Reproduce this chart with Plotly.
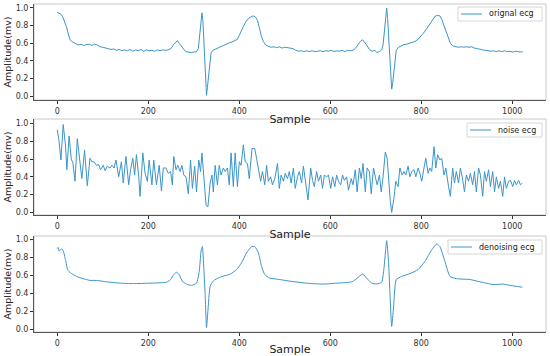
import plotly.graph_objects as go

# ---------------- data ----------------
orig_x = [0, 4, 8, 12, 16, 20, 24, 28, 32, 36, 40, 46, 52, 58, 64, 70, 76, 82, 88, 94,
          100, 106, 112, 118, 124, 130, 136, 142, 148, 154, 160, 166, 172, 178, 184, 190,
          196, 202, 208, 214, 220, 226, 232, 238, 244, 250, 255, 260, 264, 268, 272, 277,
          282, 288, 294, 300, 306, 310, 313, 316, 318, 320, 322, 324, 326, 328, 330, 332,
          335, 338, 342, 348, 354, 360, 366, 372, 378, 384, 390, 396, 400, 404, 409, 414,
          420, 426, 431, 436, 440, 444, 448, 453, 458, 464, 470, 476, 482, 488, 494, 500,
          506, 512, 518, 524, 530, 536, 542, 548, 554, 560, 566, 572, 578, 584, 590, 596,
          602, 608, 614, 620, 626, 632, 638, 644, 650, 655, 660, 666, 671, 676, 680, 686,
          692, 698, 702, 708, 713, 716, 719, 722, 724, 726, 728, 730, 732, 735, 737, 739,
          742, 745, 750, 756, 762, 768, 774, 780, 786, 793, 798, 804, 810, 815, 820, 826,
          831, 836, 841, 845, 849, 854, 859, 864, 869, 875, 881, 887, 893, 899, 905, 911,
          917, 923, 929, 935, 941, 947, 953, 959, 965, 971, 977, 983, 989, 995, 1001, 1007,
          1013, 1018, 1023]
orig_y = [0.95, 0.94, 0.93, 0.90, 0.85, 0.79, 0.71, 0.64, 0.62, 0.61, 0.595, 0.58, 0.59, 0.575,
          0.585, 0.59, 0.575, 0.59, 0.58, 0.56, 0.555, 0.545, 0.54, 0.53, 0.535, 0.52, 0.53,
          0.515, 0.525, 0.515, 0.53, 0.51, 0.525, 0.515, 0.53, 0.51, 0.525, 0.515, 0.52, 0.51,
          0.525, 0.515, 0.525, 0.52, 0.525, 0.54, 0.58, 0.615, 0.63, 0.60, 0.57, 0.53, 0.505,
          0.50, 0.495, 0.50, 0.505, 0.54, 0.70, 0.86, 0.945, 0.86, 0.68, 0.49, 0.25, 0.01,
          0.10, 0.22, 0.40, 0.49, 0.52, 0.535, 0.55, 0.565, 0.575, 0.59, 0.605, 0.615, 0.63,
          0.645, 0.69, 0.74, 0.79, 0.84, 0.88, 0.90, 0.91, 0.895, 0.86, 0.78, 0.69, 0.62, 0.58,
          0.565, 0.555, 0.56, 0.55, 0.56, 0.545, 0.555, 0.55, 0.545, 0.54, 0.52, 0.51, 0.515,
          0.505, 0.515, 0.505, 0.515, 0.505, 0.51, 0.515, 0.505, 0.515, 0.51, 0.52, 0.505,
          0.515, 0.51, 0.52, 0.505, 0.52, 0.515, 0.52, 0.54, 0.58, 0.62, 0.64, 0.61, 0.58,
          0.53, 0.51, 0.52, 0.495, 0.505, 0.525, 0.58, 0.72, 0.92, 1.0, 0.88, 0.71, 0.50, 0.30,
          0.08, 0.14, 0.22, 0.40, 0.52, 0.555, 0.57, 0.585, 0.59, 0.60, 0.61, 0.62, 0.645,
          0.67, 0.71, 0.75, 0.79, 0.83, 0.87, 0.91, 0.915, 0.91, 0.87, 0.81, 0.73, 0.65, 0.60,
          0.57, 0.56, 0.555, 0.56, 0.555, 0.56, 0.555, 0.56, 0.545, 0.54, 0.53, 0.525, 0.52,
          0.515, 0.51, 0.515, 0.505, 0.515, 0.505, 0.515, 0.505, 0.51, 0.50, 0.51, 0.505,
          0.50, 0.505]

noise_x = [0, 4, 8, 13, 18, 21, 26, 31, 34, 39, 44, 50, 54, 60, 66, 72, 76, 81, 86, 91, 95,
           101, 105, 110, 116, 120, 125, 129, 135, 141, 145, 151, 157, 161, 166, 170, 174,
           179, 182, 188, 193, 198, 202, 208, 212, 218, 224, 229, 233, 239, 244, 249, 253,
           256, 261, 265, 270, 274, 278, 283, 288, 293, 297, 302, 306, 311, 315, 318, 322,
           327, 331, 336, 340, 343, 347, 352, 356, 360, 365, 369, 374, 378, 382, 387, 391,
           396, 400, 404, 409, 413, 418, 422, 428, 434, 438, 442, 447, 451, 456, 460, 464,
           469, 473, 478, 484, 488, 492, 497, 501, 506, 510, 514, 519, 523, 528, 532, 537,
           541, 545, 551, 557, 561, 565, 570, 574, 579, 583, 587, 592, 596, 601, 605, 610,
           614, 618, 623, 627, 631, 636, 640, 646, 650, 655, 659, 664, 668, 672, 677, 681,
           686, 690, 695, 699, 703, 708, 712, 716, 721, 725, 730, 732, 735, 740, 744, 749,
           753, 758, 762, 766, 771, 775, 779, 784, 788, 793, 797, 801, 806, 810, 815, 819,
           823, 828, 832, 836, 841, 845, 850, 854, 860, 864, 869, 873, 877, 882, 886, 890,
           895, 899, 904, 908, 913, 917, 921, 926, 930, 935, 939, 943, 948, 952, 957, 961,
           965, 970, 974, 979, 983, 987, 992, 996, 1001, 1005, 1009, 1014, 1018, 1022]
noise_y = [0.93, 0.80, 0.59, 0.99, 0.76, 0.48, 0.86, 0.59, 0.57, 0.35, 0.83, 0.53, 0.38,
           0.70, 0.30, 0.61, 0.57, 0.57, 0.53, 0.54, 0.48, 0.53, 0.47, 0.52, 0.50, 0.53,
           0.50, 0.59, 0.40, 0.57, 0.33, 0.63, 0.31, 0.48, 0.61, 0.42, 0.65, 0.40, 0.18,
           0.67, 0.44, 0.35, 0.59, 0.31, 0.59, 0.31, 0.53, 0.24, 0.50, 0.50, 0.44, 0.46,
           0.31, 0.63, 0.48, 0.53, 0.46, 0.53, 0.42, 0.40, 0.21, 0.59, 0.27, 0.52, 0.23,
           0.59, 0.46, 0.67, 0.35, 0.08, 0.06, 0.33, 0.42, 0.23, 0.53, 0.31, 0.53, 0.42,
           0.50, 0.46, 0.50, 0.31, 0.67, 0.29, 0.67, 0.29, 0.57, 0.53, 0.76, 0.57, 0.55,
           0.38, 0.72, 0.72, 0.61, 0.48, 0.35, 0.46, 0.31, 0.53, 0.35, 0.40, 0.31, 0.38,
           0.55, 0.27, 0.42, 0.35, 0.44, 0.38, 0.46, 0.33, 0.50, 0.27, 0.40, 0.46, 0.33,
           0.52, 0.38, 0.14, 0.50, 0.36, 0.29, 0.46, 0.35, 0.42, 0.27, 0.42, 0.40, 0.42,
           0.27, 0.40, 0.29, 0.42, 0.35, 0.31, 0.42, 0.36, 0.40, 0.25, 0.38, 0.31, 0.48,
           0.23, 0.50, 0.38, 0.55, 0.23, 0.50, 0.46, 0.21, 0.50, 0.40, 0.31, 0.42, 0.23,
           0.40, 0.68, 0.61, 0.23, 0.12, 0.0, 0.16, 0.35, 0.29, 0.50, 0.42, 0.46, 0.42,
           0.52, 0.40, 0.46, 0.48, 0.40, 0.50, 0.44, 0.35, 0.50, 0.61, 0.44, 0.50, 0.46,
           0.74, 0.50, 0.65, 0.59, 0.61, 0.42, 0.50, 0.29, 0.18, 0.50, 0.33, 0.46, 0.33,
           0.50, 0.40, 0.23, 0.42, 0.35, 0.44, 0.31, 0.46, 0.23, 0.50, 0.42, 0.18, 0.46,
           0.35, 0.48, 0.29, 0.46, 0.23, 0.40, 0.27, 0.35, 0.18, 0.40, 0.27, 0.35, 0.36,
           0.29, 0.36, 0.31, 0.36, 0.31, 0.33]

den_x = [0, 2, 4, 7, 10, 13, 18, 23, 29, 42, 57, 72, 86, 108, 138, 167, 204, 240, 249,
         256, 262, 268, 275, 284, 295, 306, 312, 316, 319, 322, 325, 328, 331, 336, 343,
         357, 380, 394, 405, 416, 427, 434, 442, 449, 456, 467, 482, 514, 558, 586, 614,
         643, 650, 659, 671, 680, 691, 702, 713, 718, 724, 728, 731, 735, 739, 745, 757,
         775, 793, 808, 823, 834, 841, 852, 863, 877, 907, 929, 958, 980, 995, 1022]
den_y = [0.90, 0.91, 0.87, 0.885, 0.895, 0.875, 0.775, 0.66, 0.63, 0.59, 0.565, 0.545,
         0.545, 0.53, 0.515, 0.51, 0.515, 0.525, 0.555, 0.61, 0.635, 0.61, 0.535, 0.505,
         0.49, 0.515, 0.645, 0.87, 0.92, 0.68, 0.39, 0.02, 0.20, 0.48, 0.54, 0.58, 0.615,
         0.665, 0.74, 0.85, 0.92, 0.92, 0.85, 0.70, 0.61, 0.57, 0.56, 0.535, 0.51, 0.505,
         0.515, 0.525, 0.535, 0.57, 0.615, 0.57, 0.515, 0.505, 0.525, 0.68, 0.985, 0.755,
         0.425, 0.035, 0.24, 0.555, 0.59, 0.62, 0.665, 0.755, 0.885, 0.95, 0.92, 0.755,
         0.59, 0.565, 0.555, 0.53, 0.50, 0.505, 0.49, 0.47]

x_ticks = [0, 200, 400, 600, 800, 1000]
y_ticks = [0.0, 0.2, 0.4, 0.6, 0.8, 1.0]
labels = ["orignal ecg", "noise ecg", "denoising ecg"]

# ---------------- figure ----------------
LINE = "#3b95c8"
FONT = "DejaVu Sans"
fig = go.Figure()

series = [(orig_x, orig_y, "linear"), (noise_x, noise_y, "linear"), (den_x, den_y, "spline")]
for i, (xs, ys, shp) in enumerate(series):
    sfx = "" if i == 0 else str(i + 1)
    ln = dict(color=LINE, width=1, shape=shp)
    if shp == "spline":
        ln["smoothing"] = 0.5
    fig.add_trace(go.Scatter(x=xs, y=ys, mode="lines", name=labels[i], line=ln,
                             xaxis="x" + sfx, yaxis="y" + sfx, showlegend=False))

H_TOTAL = 328.0
PLOT_L, PLOT_W = 34.0, 512.0
tops = [4, 119, 236]
bots = [100, 215, 332]
def dom(top_px, bot_px):
    return [(332 - bot_px) / H_TOTAL, (332 - top_px) / H_TOTAL]

domains = [dom(tops[i], bots[i]) for i in range(3)]
yranges = [[-0.043, 1.045], [-0.03, 1.052], [-0.026, 1.037]]

tickfont = dict(family=FONT, size=8, color="#333333")
axis_common = dict(showgrid=False, zeroline=False, showline=True, linecolor="#555555",
                   linewidth=1, ticks="outside", ticklen=3, tickwidth=0.8,
                   tickcolor="#333333", tickfont=tickfont, mirror=False, automargin=False)

layout = dict(width=550, height=356, margin=dict(l=34, r=4, t=4, b=24, autoexpand=False),
              paper_bgcolor="white", plot_bgcolor="white",
              font=dict(family=FONT, color="#222222"), showlegend=False)

for i in range(3):
    sfx = "" if i == 0 else str(i + 1)
    layout["xaxis" + sfx] = dict(axis_common, domain=[0, 1], anchor="y" + sfx,
                                 range=[-51.15, 1074.15], tickvals=x_ticks,
                                 ticktext=[str(v) for v in x_ticks],
                                 title=dict(text="Sample", font=dict(family=FONT, size=11,
                                                                     color="#222222"),
                                            standoff=0))
    layout["yaxis" + sfx] = dict(axis_common, domain=domains[i], anchor="x" + sfx,
                                 range=yranges[i], tickvals=y_ticks,
                                 ticktext=["%.1f" % v for v in y_ticks],
                                 title=dict(text="Amplitude(mv)",
                                            font=dict(family=FONT, size=9.5, color="#222222"),
                                            standoff=2))

fig.update_layout(**layout)

# light frame on top/right of each subplot
for i in range(3):
    sfx = "" if i == 0 else str(i + 1)
    fig.add_shape(type="rect", xref="x" + sfx + " domain", yref="y" + sfx + " domain",
                  x0=0, x1=1, y0=0, y1=1, line=dict(color="#c8c8c8", width=1), layer="below")

# legends drawn as boxes (box left px, box top px, box bottom px)
leg_boxes = [(458, 7, 21), (467, 123, 137), (448, 240, 254)]
LEG_R = 542
for i in range(3):
    sfx = "" if i == 0 else str(i + 1)
    bl, bt, bb = leg_boxes[i]
    fx = lambda px: (px - PLOT_L) / PLOT_W
    fy = lambda py, i=i: (bots[i] - py) / float(bots[i] - tops[i])
    xr, yr = "x" + sfx + " domain", "y" + sfx + " domain"
    fig.add_shape(type="rect", xref=xr, yref=yr, x0=fx(bl), x1=fx(LEG_R), y0=fy(bb), y1=fy(bt),
                  line=dict(color="#d6d6d6", width=1), fillcolor="rgba(255,255,255,0.85)",
                  layer="above")
    ym = fy((bt + bb) / 2.0)
    fig.add_shape(type="line", xref=xr, yref=yr, x0=fx(bl + 3), x1=fx(bl + 24), y0=ym, y1=ym,
                  line=dict(color=LINE, width=1), layer="above")
    fig.add_annotation(xref=xr, yref=yr, x=fx(bl + 29), y=ym, text=labels[i], showarrow=False,
                       xanchor="left", yanchor="middle",
                       font=dict(family=FONT, size=8, color="#222222"))

fig.write_html("out.html", config={"displayModeBar": False},
               post_script="document.body.style.margin='0';document.body.style.overflow='hidden';")
